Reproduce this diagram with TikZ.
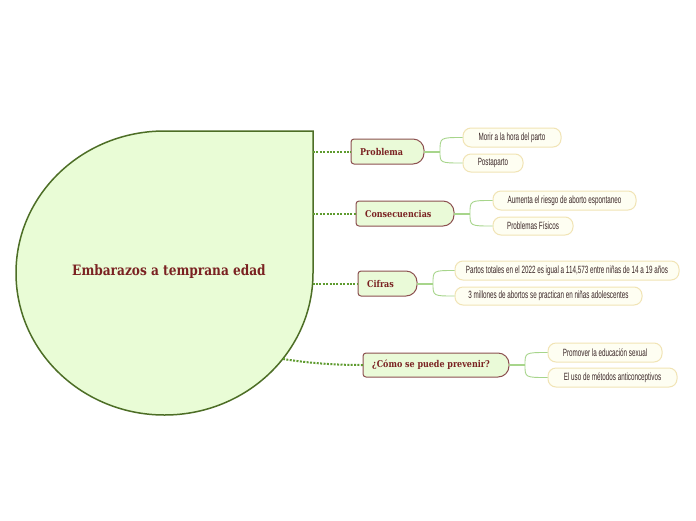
\documentclass[tikz,border=0pt]{standalone}
\usepackage{fontspec}
\newfontfamily\slabfont[FakeStretch=0.85]{DejaVu Serif}
\newfontfamily\leaffont[FakeStretch=0.6]{Liberation Sans}
\definecolor{cfill}{HTML}{E9FCD6}
\definecolor{cborder}{HTML}{4D6E26}
\definecolor{textred}{HTML}{7A2222}
\definecolor{bfill}{HTML}{EAFAD8}
\definecolor{bborder}{HTML}{8C5050}
\definecolor{leaffill}{HTML}{FEFEF2}
\definecolor{leafborder}{HTML}{F1E4B5}
\definecolor{leaftext}{HTML}{3A2626}
\definecolor{dotgreen}{HTML}{5E9B2F}
\definecolor{lightgreen}{HTML}{A7D58B}
\tikzset{
  dotconn/.style={draw=dotgreen, line width=2pt, dash pattern=on 2pt off 1.4pt},
  leafconn/.style={draw=lightgreen, line width=0.9pt},
  stemconn/.style={draw=lightgreen, line width=2pt},
  bbox/.style={draw=bborder, fill=bfill, line width=1pt},
  bnode/.style={inner sep=0pt, outer sep=0pt},
  btext/.style={font=\slabfont\bfseries\fontsize{9.4}{11}\selectfont, text=textred, inner sep=0pt, anchor=west},
  ctext/.style={font=\slabfont\bfseries\fontsize{14.3}{16}\selectfont, text=textred, inner sep=0pt},
  leaf/.style={draw=leafborder, fill=leaffill, line width=1pt, rounded corners=8pt, inner sep=0pt,
    font=\leaffont\fontsize{10.5}{12}\selectfont, text=leaftext},
}
\newcommand{\branchshape}[1]{%
  \path[bbox] (#1.south) [rounded corners=3pt] -- (#1.south west) -- (#1.north west) -- (#1.north)
    [rounded corners=11pt] -- (#1.north east) -- (#1.south east) -- cycle;}
\begin{document}
\begin{tikzpicture}[x=1pt,y=-1pt]
\path[fill=white] (0,0) rectangle (696,520);
\useasboundingbox (0,0) rectangle (696,520);
% central shape
\path[fill=cfill, draw=cborder, line width=1.5pt] (313,131) -- (164.5,131)
  arc[start angle=270, end angle=90, x radius=148.5, y radius=142]
  arc[start angle=90, end angle=0, x radius=148.5, y radius=142] -- cycle;
\node[ctext] (c) at (169,272) {Embarazos a temprana edad};
% branch boxes
\node[bnode, minimum width=73, minimum height=25] (b1) at (387.5,151.5) {};
\node[bnode, minimum width=98, minimum height=25] (b2) at (405,213.5) {};
\node[bnode, minimum width=59, minimum height=25] (b3) at (387.5,283.5) {};
\node[bnode, minimum width=146, minimum height=24] (b4) at (436,365) {};
\branchshape{b1}\branchshape{b2}\branchshape{b3}\branchshape{b4}
\node[btext] (t1) at ([xshift=9]b1.west) {Problema};
\node[btext] (t2) at ([xshift=9]b2.west) {Consecuencias};
\node[btext] (t3) at ([xshift=9]b3.west) {Cifras};
\node[btext] (t4) at ([xshift=9]b4.west) {¿Cómo se puede prevenir?};
% connectors from centre
\coordinate (c1) at (313,151.5);
\coordinate (c2) at (313,213.5);
\coordinate (c3) at (312.5,283.5);
\coordinate (c4) at (283,359);
\draw[dotconn] (c1) -- (b1.west);
\draw[dotconn] (c2) -- (b2.west);
\draw[dotconn] (c3) -- (b3.west);
\draw[dotconn] (c4) .. controls (315,364) and (340,365) .. (b4.west);
% leaves
\node[leaf, minimum width=98, minimum height=19] (l11) at (512,137.5) {Morir a la hora del parto};
\node[leaf, minimum width=60, minimum height=18] (l12) at (493,163) {Postaparto};
\node[leaf, minimum width=143, minimum height=19] (l21) at (564.5,200.5) {Aumenta el riesgo de aborto espontaneo};
\node[leaf, minimum width=80, minimum height=18] (l22) at (533,226) {Problemas Físicos};
\node[leaf, minimum width=224, minimum height=19] (l31) at (567,270.5) {Partos totales en el 2022 es igual a 114,573 entre niñas de 14 a 19 años};
\node[leaf, minimum width=187, minimum height=18] (l32) at (548.5,296) {3 millones de abortos se practican en niñas adolescentes};
\node[leaf, minimum width=114, minimum height=19] (l41) at (605,352.5) {Promover la educación sexual};
\node[leaf, minimum width=129, minimum height=19] (l42) at (612.5,377.5) {El uso de métodos anticonceptivos};
% leaf connectors
\coordinate (s1) at ([xshift=16]b1.east);
\coordinate (s2) at ([xshift=16]b2.east);
\coordinate (s3) at ([xshift=16]b3.east);
\coordinate (s4) at ([xshift=16]b4.east);
\draw[stemconn] (b1.east) -- (s1);
\draw[stemconn] (b2.east) -- (s2);
\draw[stemconn] (b3.east) -- (s3);
\draw[stemconn] (b4.east) -- (s4);
\draw[leafconn] (s1) .. controls (s1 |- l11.west) .. (l11.west);
\draw[leafconn] (s1) .. controls (s1 |- l12.west) .. (l12.west);
\draw[leafconn] (s2) .. controls (s2 |- l21.west) .. (l21.west);
\draw[leafconn] (s2) .. controls (s2 |- l22.west) .. (l22.west);
\draw[leafconn] (s3) .. controls (s3 |- l31.west) .. (l31.west);
\draw[leafconn] (s3) .. controls (s3 |- l32.west) .. (l32.west);
\draw[leafconn] (s4) .. controls (s4 |- l41.west) .. (l41.west);
\draw[leafconn] (s4) .. controls (s4 |- l42.west) .. (l42.west);
\end{tikzpicture}
\end{document}
